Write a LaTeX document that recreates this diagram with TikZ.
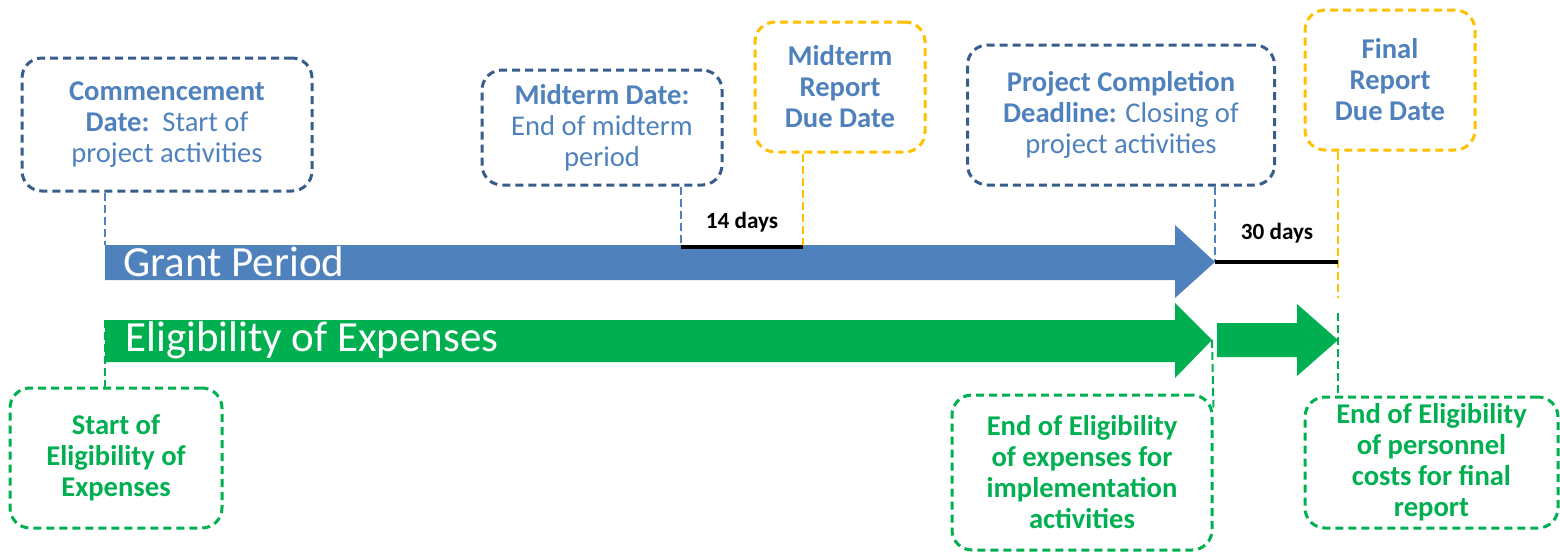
\documentclass[tikz,border=0pt]{standalone}
\usepackage{fontspec}
\setmainfont{Carlito}
\definecolor{boxblue}{RGB}{56,93,138}
\definecolor{txtblue}{RGB}{79,129,189}
\definecolor{elgreen}{RGB}{0,176,80}
\definecolor{dueyellow}{RGB}{255,192,0}
\tikzset{
    datebox/.style={
        draw=boxblue,
        line width=1.5pt,
        dash pattern=on 4pt off 2.5pt,
        rounded corners=10pt,
        align=center,
        text=txtblue,
        font=\fontsize{14.3}{15.5}\selectfont,
        inner sep=2pt,
    },
    duebox/.style={datebox, draw=dueyellow},
    eligbox/.style={datebox, draw=elgreen, text=elgreen,
        font=\fontsize{14.3}{15.5}\selectfont\bfseries},
    link/.style={line width=1pt, dash pattern=on 4pt off 2pt},
    dayspan/.style={line width=2pt, black},
    daylabel/.style={font=\fontsize{11.6}{13}\selectfont\bfseries},
    bartext/.style={text=white, anchor=base west, inner sep=0pt,
        font=\fontsize{21.5}{24}\selectfont},
}

\begin{document}
\begin{tikzpicture}[x=0.5pt, y=-0.5pt]
                   \useasboundingbox (0,0) rectangle (1560,552);
                   \fill[txtblue] (105,245) -- (1175,245) -- (1175,225) -- (1215,262)
                       -- (1175,298) -- (1175,280) -- (105,280) -- cycle;
                   \fill[elgreen] (105,320) -- (1175,320) -- (1175,303) -- (1212,340)
                       -- (1175,378) -- (1175,362) -- (105,362) -- cycle;
                   \fill[elgreen] (1217,323) -- (1297,323) -- (1297,304) -- (1338,340)
                       -- (1297,376) -- (1297,357) -- (1217,357) -- cycle;
                   \node[bartext] (grant) at (123,276) {Grant Period};
                   \node[bartext] (elig) at (125,351) {Eligibility of Expenses};
                   \coordinate (gStart) at (105,245);
                   \coordinate (gMid) at (681,247);
                   \coordinate (gRep) at (803,247);
                   \coordinate (gEnd) at (1215,262);
                   \coordinate (gFin) at (1338,298);
                   \coordinate (eStart) at (105,320);
                   \coordinate (eEnd) at (1212,340);
                   \coordinate (eFin) at (1338,313);
                   \node[datebox, minimum width=145pt, minimum height=66.5pt] (commence) at (167,124.5)
                       {\textbf{Commencement}\\ \textbf{Date:}\ \ Start of\\ project activities};
                   \node[datebox, minimum width=120pt, minimum height=57.5pt] (midterm) at (602,127.5)
                       {\textbf{Midterm Date:}\\ End of midterm\\ period};
                   \node[duebox, minimum width=85pt, minimum height=65pt] (midrep) at (840,87)
                       {\textbf{Midterm}\\ \textbf{Report}\\ \textbf{Due Date}};
                   \node[datebox, minimum width=153.5pt, minimum height=70pt] (complete) at (1121,115)
                       {\textbf{Project Completion}\\ \textbf{Deadline:} Closing of\\ project activities};
                   \node[duebox, minimum width=85pt, minimum height=70pt] (finrep) at (1390,80)
                       {\textbf{Final}\\ \textbf{Report}\\ \textbf{Due Date}};
                   \node[eligbox, minimum width=130pt, minimum height=77.5pt] (endimpl) at (1082,472.5)
                       {End of Eligibility\\ of expenses for\\ implementation\\ activities};
                   \node[eligbox, minimum width=126.5pt, minimum height=65.5pt] (finelig) at (1431.5,462.5)
                       {End of Eligibility\\ of personnel\\ costs for final\\ report};
                   \node[eligbox, minimum width=106pt, minimum height=70pt] (startelig) at (116,458)
                       {Start of\\ Eligibility of\\ Expenses};
                   \draw[link, txtblue] (commence.south -| gStart) to (gStart);
                   \draw[link, txtblue] (midterm.south -| gMid) to (gMid);
                   \draw[link, dueyellow] (midrep.south -| gRep) to (gRep);
                   \draw[link, txtblue] (complete.south -| gEnd) to (gEnd);
                   \draw[link, dueyellow] (finrep.south -| gFin) to (gFin);
                   \draw[link, elgreen] (eStart) to (startelig.north -| eStart);
                   \draw[link, elgreen] (eEnd) to ([yshift=-7pt]endimpl.north east);
                   \draw[link, elgreen] (eFin) to (finelig.north -| eFin);
                   \draw[dayspan] (gMid) to (gRep);
                   \draw[dayspan] (gEnd) to (gEnd -| gFin);
                   \node[daylabel] (mid14) at (742,222) {14 days};
                   \node[daylabel] (fin30) at (1277,233) {30 days};
                   \end{tikzpicture}
\end{document}
